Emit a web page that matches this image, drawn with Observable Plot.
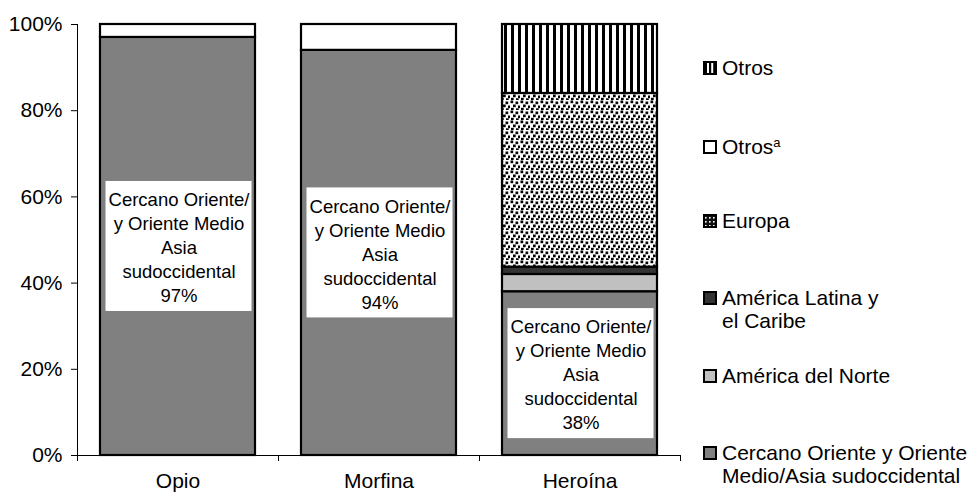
<!DOCTYPE html>
<html>
<head>
<meta charset="utf-8">
<script src="https://cdn.jsdelivr.net/npm/d3@7"></script>
<script src="https://cdn.jsdelivr.net/npm/@observablehq/plot@0.6"></script>
<style>
  html, body { margin: 0; padding: 0; background: #fff; }
  #chart svg { font-family: "Liberation Sans", Arial, sans-serif; overflow: visible; }
</style>
</head>
<body>
<div id="chart"></div>
<script>
// ---- data ----
const categories = ["Opio", "Morfina", "Heroína"];
const regions = ["Cercano", "Norte", "Latina", "Europa", "OtrosA", "Otros"]; // bottom to top
const cercano = [97, 94, 38];
const norte   = [0, 0, 4];
const latina  = [0, 0, 1.7];
const europa  = [0, 0, 40.3];
const otrosA  = [3, 6, 0];
const otros   = [0, 0, 16];
const yTicks = [0, 20, 40, 60, 80, 100];
const labelLines = ["Cercano Oriente/", "y Oriente Medio", "Asia", "sudoccidental"];
const legendLabels = [
  ["Otros"],
  ["Otros"],
  ["Europa"],
  ["América Latina y", "el Caribe"],
  ["América del Norte"],
  ["Cercano Oriente y Oriente", "Medio/Asia sudoccidental"]
];
const legendKeys = ["Otros", "OtrosA", "Europa", "Latina", "Norte", "Cercano"];

// ---- styles ----
const fills = {
  Cercano: "#808080",
  Norte: "#c0c0c0",
  Latina: "#333333",
  Europa: "url(#patEuropa)",
  OtrosA: "#ffffff",
  Otros: "url(#patStripes)"
};

const series = {Cercano: cercano, Norte: norte, Latina: latina, Europa: europa, OtrosA: otrosA, Otros: otros};
const rows = [];
for (const r of regions) categories.forEach((c, i) => rows.push({cat: c, region: r, value: series[r][i]}));
const labelRows = categories.map((c, i) => ({cat: c, mid: cercano[i] / 2, text: labelLines.join("\n") + "\n" + cercano[i] + "%"}));

const W = 972, H = 495, ML = 77, MR = 292, MT = 24, MB = 40;
const step = (W - ML - MR) / categories.length;
const pxToY = 100 / (H - MT - MB);
const halfBox = 65 * pxToY;

const plot = Plot.plot({
  width: W, height: H,
  marginLeft: ML, marginRight: MR, marginTop: MT, marginBottom: MB,
  style: {fontFamily: "'Liberation Sans', Arial, sans-serif", color: "#000", background: "#fff"},
  x: {domain: categories, paddingInner: 0.229, paddingOuter: 0.1145, label: null},
  y: {domain: [0, 100], label: null},
  color: {type: "identity"},
  marks: [
    Plot.barY(rows, {x: "cat", y: "value", z: "region", fill: d => fills[d.region], stroke: "#000", strokeWidth: 2.2}),
    Plot.barY(labelRows, {x: "cat", y1: d => d.mid - halfBox, y2: d => d.mid + halfBox, fill: "#fff", insetLeft: 5.5, insetRight: 3.5}),
    Plot.text(labelRows, {x: "cat", y: "mid", text: "text", fontSize: 18.5, lineHeight: 1.3, fill: "#000", dx: 1}),
    Plot.ruleY([0], {stroke: "#000", strokeWidth: 1}),
    Plot.ruleX([categories[0]], {x: d => d, dx: -step / 2, y1: -6 * pxToY, y2: 100, stroke: "#000", strokeWidth: 1}),
    Plot.ruleX(categories, {x: d => d, dx: step / 2, y1: 0, y2: -6 * pxToY, stroke: "#000", strokeWidth: 1}),
    Plot.axisY({ticks: yTicks, tickFormat: d => d + "%", tickSize: 6, tickPadding: 9, fontSize: 21, stroke: "#000"}),
    Plot.axisX({tickSize: 0, tickPadding: 18, fontSize: 21})
  ]
});

const svg = d3.select(plot.tagName.toLowerCase() === "svg" ? plot : plot.querySelector("svg"));
const defs = svg.insert("defs", ":first-child");
// vertical stripes
const ps = defs.append("pattern").attr("id", "patStripes").attr("patternUnits", "userSpaceOnUse")
  .attr("width", 7).attr("height", 10);
ps.append("rect").attr("width", 7).attr("height", 10).attr("fill", "#fff");
ps.append("rect").attr("x", 0).attr("width", 3).attr("height", 10).attr("fill", "#000");
// dotted europa
const pe = defs.append("pattern").attr("id", "patEuropa").attr("patternUnits", "userSpaceOnUse")
  .attr("width", 10).attr("height", 10);
pe.append("rect").attr("width", 10).attr("height", 10).attr("fill", "#fff");
[[0.5, 0.5], [5.5, 1.5], [3, 4.5], [8, 5.5], [1, 7.8], [6, 8.3]].forEach(([x, y]) =>
  pe.append("rect").attr("x", x).attr("y", y).attr("width", 2.7).attr("height", 2.7).attr("fill", "#000"));
// legend europa swatch pattern
const pl = defs.append("pattern").attr("id", "legEuropa").attr("patternUnits", "userSpaceOnUse")
  .attr("width", 4).attr("height", 4);
pl.append("rect").attr("width", 4).attr("height", 4).attr("fill", "#111");
pl.append("rect").attr("x", 1).attr("y", 1).attr("width", 1.6).attr("height", 1.6).attr("fill", "#fff");

// legend
const legendY = [68, 147, 221, 298, 376, 453];
const lg = svg.append("g").attr("font-size", 21).attr("fill", "#000").attr("text-anchor", "start");
legendKeys.forEach((k, i) => {
  const y = legendY[i];
  const g = lg.append("g");
  let f = fills[k];
  if (k === "Europa") f = "url(#legEuropa)";
  if (k === "Otros") f = "#000";
  g.append("rect").attr("x", 704).attr("y", y - 6).attr("width", 12).attr("height", 12)
    .attr("fill", f).attr("stroke", "#000").attr("stroke-width", 2);
  if (k === "Otros") {
    g.append("rect").attr("x", 707).attr("y", y - 5).attr("width", 2).attr("height", 10).attr("fill", "#fff");
    g.append("rect").attr("x", 711.2).attr("y", y - 5).attr("width", 2).attr("height", 10).attr("fill", "#fff");
  }
  legendLabels[i].forEach((line, j) => {
    const t = g.append("text").attr("x", 722).attr("y", y + j * 23).attr("dy", "0.35em").text(line);
    if (k === "OtrosA") t.append("tspan").attr("font-size", 13).attr("dy", "-0.55em").text("a");
  });
});

document.getElementById("chart").appendChild(plot);
</script>
</body>
</html>
